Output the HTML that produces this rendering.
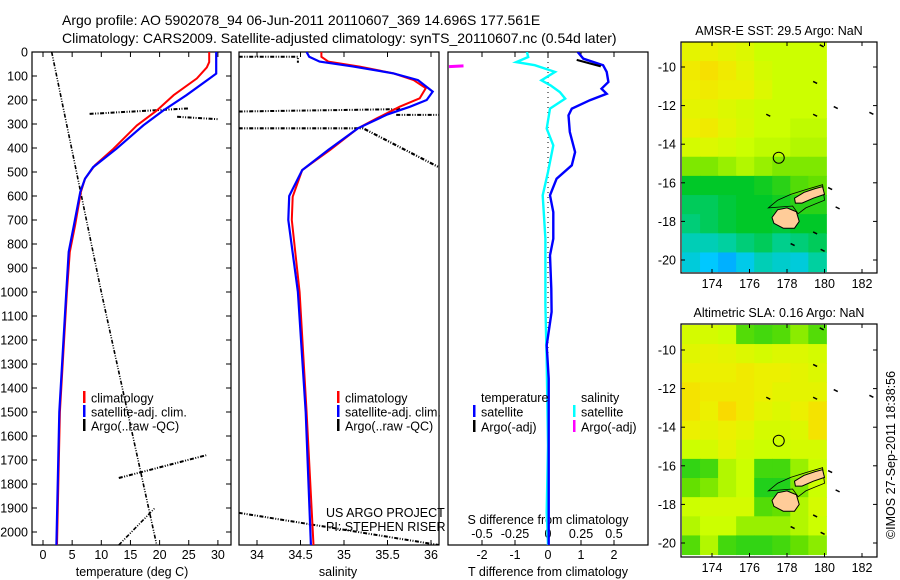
<!DOCTYPE html>
<html><head><meta charset="utf-8">
<style>
html,body{margin:0;padding:0;background:#fff;}
svg{display:block;font-family:"Liberation Sans",sans-serif;}
text{fill:#000;}
</style></head>
<body>
<svg id="chart" width="900" height="580" viewBox="0 0 900 580" xmlns="http://www.w3.org/2000/svg">
<rect width="900" height="580" fill="#fff"/>
<text x="62" y="25" font-size="14">Argo profile: AO 5902078_94 06-Jun-2011 20110607_369 14.696S 177.561E</text>
<text x="62" y="43" font-size="14">Climatology: CARS2009. Satellite-adjusted climatology: synTS_20110607.nc (0.54d later)</text>
<g id="maps"></g>
<g id="plots"></g>
<text transform="translate(895,455) rotate(-90)" font-size="12.5" text-anchor="middle">©IMOS 27-Sep-2011 18:38:56</text>
</svg>
<script>
// ---------- DATA ----------
const depthT = [0,42,64,110,180,244,306,403,472,528,583,722,833,1000,1500,2054];
const tempClim = [28.5,28.5,28.1,26.4,22.4,19.5,16.1,12.1,8.9,7.2,6.5,5.5,4.6,4.1,2.9,2.4];
const depthTS = [0,90,110,180,244,306,403,480,528,583,722,833,1000,1500,2054];
const tempSat = [29.7,29.7,28.6,24.6,20.6,17.2,12.6,8.6,7.2,6.4,5.3,4.4,4.0,2.8,2.3];
const argoTempA_T = [1.5,10,19.5];
const argoTempA_D = [0,1000,2054];
const argoTempB_T = [8,25];
const argoTempB_D = [258,235];
const argoTempC_T = [23,30];
const argoTempC_D = [270,280];
const argoTempD_T = [13,28];
const argoTempD_D = [1775,1680];
const argoTempE_T = [13,19.2];
const argoTempE_D = [2054,1900];

const depthSC = [0,20,40,61,89,117,151,193,228,276,318,408,492,603,700,1000,1500,2054];
const salClim = [34.74,34.74,34.82,35.18,35.57,35.8,35.94,35.87,35.64,35.38,35.16,34.84,34.52,34.41,34.4,34.49,34.57,34.65];
const depthSS = [0,20,40,60,89,117,165,200,228,260,318,408,492,600,700,1000,1500,2054];
const salSat = [34.57,34.6,34.72,35.1,35.57,35.85,36.02,35.95,35.76,35.5,35.16,34.82,34.52,34.37,34.36,34.47,34.56,34.62];
const argoSalA_S = [33.79,34.47,34.47];
const argoSalA_D = [20,20,45];
const argoSalB_S = [33.79,35.68];
const argoSalB_D = [248,238];
const argoSalC_S = [35.6,36.09];
const argoSalC_D = [262,262];
const argoSalD_S = [33.79,35.22,36.09];
const argoSalD_D = [318,318,480];
const argoSalE_S = [33.79,36.09];
const argoSalE_D = [1920,2054];

const depthDT = [0,28,55,83,125,153,174,201,236,264,333,417,472,528,597,667,778,847,986,1083,1222,1361,1639,2054];
const dTsat = [0.9,1.07,1.67,1.78,1.83,1.62,1.78,1.27,0.72,0.62,0.66,0.82,0.72,0.26,0.06,0.16,0.16,0.06,0.1,0.11,-0.04,0.02,0.02,0.02];
const depthDTargo = [33,60];
const dTargo = [0.87,1.6];
const depthDS = [0,21,42,55,83,118,139,167,194,236,319,389,500,597,778,1056,1292,1639,1917,2054];
const dSsat = [-0.16,-0.15,-0.24,-0.1,0.053,-0.05,0.02,0.09,0.13,0.015,-0.01,0.04,0.0,-0.04,-0.02,-0.02,-0.01,0.0,-0.01,0.0];
const depthDSargo = [61,58];
const dSargo = [-0.75,-0.64];

const depthTicks = [0,100,200,300,400,500,600,700,800,900,1000,1100,1200,1300,1400,1500,1600,1700,1800,1900,2000];
const tempTicks = [0,5,10,15,20,25,30];
const salTicks = [34,34.5,35,35.5,36];
const salTickLabels = ["34","34.5","35","35.5","36"];
const dtTicks = [-2,-1,0,1,2];
const dsTicks = [-0.5,-0.25,0,0.25,0.5];
const dsTickLabels = ["-0.5","-0.25","0","0.25","0.5"];

const lonTicks = [174,176,178,180,182];
const latTicks = [10,12,14,16,18,20];
const sstGrid = [
[0.76,0.78,0.76,0.74,0.7,0.7,0.7,0.7],
[0.8,0.83,0.8,0.76,0.72,0.7,0.7,0.7],
[0.78,0.8,0.78,0.78,0.74,0.7,0.7,0.7],
[0.76,0.76,0.74,0.72,0.7,0.7,0.7,0.7],
[0.78,0.8,0.76,0.73,0.7,0.7,0.69,0.69],
[0.72,0.74,0.72,0.7,0.69,0.69,0.68,0.68],
[0.64,0.64,0.66,0.68,0.66,0.64,0.64,0.64],
[0.5,0.5,0.5,0.5,0.52,0.55,0.6,0.62],
[0.45,0.45,0.48,0.5,0.5,0.52,0.55,0.55],
[0.42,0.45,0.48,0.5,0.5,0.48,0.5,0.5],
[0.35,0.35,0.38,0.42,0.45,0.4,0.42,0.45],
[0.3,0.25,0.2,0.28,0.35,0.32,0.3,0.38]];
const slaGrid = [
[0.72,0.72,0.7,0.6,0.58,0.6,0.65,0.6],
[0.75,0.77,0.76,0.74,0.72,0.74,0.74,0.72],
[0.78,0.78,0.78,0.8,0.78,0.78,0.76,0.74],
[0.82,0.8,0.8,0.8,0.78,0.76,0.76,0.76],
[0.82,0.78,0.85,0.8,0.76,0.74,0.78,0.82],
[0.78,0.76,0.78,0.76,0.72,0.72,0.74,0.82],
[0.7,0.72,0.76,0.72,0.7,0.7,0.72,0.72],
[0.56,0.58,0.68,0.7,0.58,0.58,0.66,0.7],
[0.62,0.64,0.68,0.7,0.54,0.54,0.64,0.7],
[0.7,0.72,0.72,0.72,0.6,0.62,0.68,0.72],
[0.68,0.7,0.7,0.66,0.66,0.66,0.68,0.7],
[0.6,0.68,0.58,0.56,0.56,0.58,0.62,0.65]];
const vitiLon = [177.2,177.5,178.0,178.5,178.65,178.4,177.8,177.3];
const vitiLat = [17.8,17.4,17.3,17.5,18.0,18.35,18.35,18.1];
const vanuaLon = [178.4,178.9,179.5,179.9,180.0,179.4,178.8,178.45];
const vanuaLat = [16.8,16.5,16.3,16.2,16.6,16.8,17.05,17.05];
const reefLon = [177.0,177.5,178.2,179.0,179.9,180.0,179.5,179.0,178.6,178.3];
const reefLat = [17.3,16.9,16.6,16.35,16.1,16.9,17.1,17.3,17.6,17.2];
const isleLon = [177.0,179.5,179.5,179.85,180.6,182.5,180.7,178.3,179.5,180.3,179.9];
const isleLat = [12.5,12.5,10.8,8.9,12.1,12.4,17.3,19.2,18.6,16.3,19.5];
const argoLon = 177.56, argoLat = 14.7;

// ---------- SCALES ----------
const NS = "http://www.w3.org/2000/svg";
const plots = document.getElementById('plots');
const maps = document.getElementById('maps');
const yD = d => 52 + 0.24*d;
const xT = t => 43 + 5.83*t;
const xS = s => 257 + 87*(s-34);
const xDT = v => 548 + 33*v;
const xDS = v => 548 + 132*v;
const xLon = lon => 712 + (lon-174)*18.75;
const yLat1 = lat => 67 + (lat-10)*19.3;
const yLat2 = lat => 350 + (lat-10)*19.3;

function mk(tag, attrs, parent){
  const e = document.createElementNS(NS, tag);
  for (const k in attrs) e.setAttribute(k, attrs[k]);
  (parent||plots).appendChild(e);
  return e;
}
function txt(x,y,s,size,anchor,parent){
  const e = mk('text',{x:x,y:y,'font-size':size,'text-anchor':anchor||'start'},parent);
  e.textContent = s;
  return e;
}
function pts(xs, ys, fx, fy){ return xs.map((v,i)=>fx(v).toFixed(1)+','+fy(ys[i]).toFixed(1)).join(' '); }

// ---------- PANEL FRAMES ----------
const panels = [[32,231,'temperature-panel'],[239,439,'salinity-panel'],[448,648,'difference-panel']];
panels.forEach(p=>{
  const r = mk('rect',{x:p[0],y:52,width:p[1]-p[0],height:493,fill:'none',stroke:'#000','stroke-width':1.2});
  
  
});
const defs = mk('defs',{});
panels.forEach((p,i)=>{
  const c = mk('clipPath',{id:'clip'+i},defs);
  mk('rect',{x:p[0],y:52,width:p[1]-p[0],height:493},c);
});
const mclip = mk('clipPath',{id:'mapclip'},defs);
mk('rect',{x:681,y:0,width:196,height:580},mclip);

depthTicks.forEach(d=>{
  const t = txt(28, yD(d)+4.5, String(d), 12.5, 'end');
  
  
  const a = mk('line',{x1:32,x2:37,y1:yD(d),y2:yD(d),stroke:'#000'});
  
  
  const b = mk('line',{x1:226,x2:231,y1:yD(d),y2:yD(d),stroke:'#000'});
  
  
});
function xticks(vals, labels, fx, ylab, name, top){
  vals.forEach((v,i)=>{
    const x = fx(v);
    const l1 = mk('line',{x1:x,x2:x,y1:545,y2:540,stroke:'#000'});
    
    
    if(top){
      const l2 = mk('line',{x1:x,x2:x,y1:52,y2:57,stroke:'#000'});
      
      
    }
    if(ylab){
      const t = txt(x, ylab, labels[i], 12.5, 'middle');
      
      
    }
  });
}
xticks(tempTicks, tempTicks.map(String), xT, 559, 'temperature', true);
xticks(salTicks, salTickLabels, xS, 559, 'salinity', true);
xticks(dtTicks, dtTicks.map(String), xDT, 559, 'tdiff', true);
dsTicks.forEach((v,i)=>{
  const t = txt(xDS(v), 538, dsTickLabels[i], 12.5, 'middle');
  
  
});

let at = txt(132,576,'temperature (deg C)',12.5,'middle');


at = txt(338,576,'salinity',12.5,'middle');


at = txt(548,576,'T difference from climatology',12.5,'middle');


at = txt(548,524,'S difference from climatology',12.5,'middle');


at = txt(326,517,'US ARGO PROJECT',12.5,'start');


at = txt(326,531,'PI: STEPHEN RISER',12.5,'start');



function series(xs, ys, fx, color, w, clip, name, dash){
  const a = {points:pts(xs,ys,fx,yD),fill:'none',stroke:color,'stroke-width':w,'clip-path':'url(#clip'+clip+')'};
  if(dash) a['stroke-dasharray'] = dash;
  const p = mk('polyline',a);
  
  
}
const DD = '4,1.5,1,1.5,1,1.5';
series(argoTempA_T, argoTempA_D, xT, '#000', 1.6, 0, 'argo-temp-raw', DD);
series(argoTempB_T, argoTempB_D, xT, '#000', 2, 0, 'argo-temp-raw', DD);
series(argoTempC_T, argoTempC_D, xT, '#000', 2, 0, 'argo-temp-raw', DD);
series(argoTempD_T, argoTempD_D, xT, '#000', 2, 0, 'argo-temp-raw', DD);
series(argoTempE_T, argoTempE_D, xT, '#000', 1.6, 0, 'argo-temp-raw', DD);
series(tempClim, depthT, xT, '#f00', 2, 0, 'temp-climatology-line');
series(tempSat, depthTS, xT, '#00f', 2.2, 0, 'temp-satellite-line');

series(argoSalA_S, argoSalA_D, xS, '#000', 2, 1, 'argo-sal-raw', DD);
series(argoSalB_S, argoSalB_D, xS, '#000', 2, 1, 'argo-sal-raw', DD);
series(argoSalC_S, argoSalC_D, xS, '#000', 2, 1, 'argo-sal-raw', DD);
series(argoSalD_S, argoSalD_D, xS, '#000', 2.2, 1, 'argo-sal-raw', DD);
series(argoSalE_S, argoSalE_D, xS, '#000', 2, 1, 'argo-sal-raw', DD);
series(salClim, depthSC, xS, '#f00', 2, 1, 'sal-climatology-line');
series(salSat, depthSS, xS, '#00f', 2.2, 1, 'sal-satellite-line');

const z = mk('line',{x1:xDT(0),x2:xDT(0),y1:52,y2:545,stroke:'#000','stroke-width':1,'stroke-dasharray':'1,4'});


series(dSsat, depthDS, xDS, '#0ff', 2.4, 2, 'sdiff-satellite-line');
series(dSargo, depthDSargo, xDS, '#f0f', 3, 2, 'sdiff-argo-line');
series(dTsat, depthDT, xDT, '#00f', 2.4, 2, 'tdiff-satellite-line');
series(dTargo, depthDTargo, xDT, '#000', 2, 2, 'tdiff-argo-line');

function legend(x, y, color, label, name){
  const r = mk('rect',{x:x,y:y-7,width:2.5,height:12,fill:color});
  
  
  const t = txt(x+8, y+4.5, label, 12.5, 'start');
  
  
}
legend(83,398,'#f00','climatology','legend-temp-climatology');
legend(83,412,'#00f','satellite-adj. clim.','legend-temp-satellite');
legend(83,426,'#000','Argo(..raw -QC)','legend-temp-argo');
legend(337,398,'#f00','climatology','legend-sal-climatology');
legend(337,412,'#00f','satellite-adj. clim.','legend-sal-satellite');
legend(337,426,'#000','Argo(..raw -QC)','legend-sal-argo');
let lt = txt(481,402,'temperature',12.5,'start');


lt = txt(581,402,'salinity',12.5,'start');


legend(473,412,'#00f','satellite','legend-tdiff-satellite');
legend(473,427,'#000','Argo(-adj)','legend-tdiff-argo');
legend(573,412,'#0ff','satellite','legend-sdiff-satellite');
legend(573,427,'#f0f','Argo(-adj)','legend-sdiff-argo');

// ---------- MAPS ----------
const cstops = [[0,[0,80,255]],[0.25,[0,200,255]],[0.38,[0,208,160]],[0.5,[0,200,40]],[0.62,[100,224,0]],[0.7,[204,255,0]],[0.78,[236,240,0]],[0.88,[255,208,0]],[1,[255,160,0]]];
function cmap(v){
  for(let i=1;i<cstops.length;i++){
    if(v<=cstops[i][0]){
      const a=cstops[i-1], b=cstops[i], f=(v-a[0])/(b[0]-a[0]);
      const c=a[1].map((q,k)=>Math.round(q+(b[1][k]-q)*f));
      return 'rgb('+c.join(',')+')';
    }
  }
  return 'rgb(255,160,0)';
}
const lonMin=172.4, lonMax=180.1, latMin=8.7, latMax=20.6;
function drawMap(grid, yLat, top, bottom, name, title){
  const rows = grid.length, cols = grid[0].length;
  const dLon = (lonMax-lonMin)/cols, dLat = (latMax-latMin)/rows;
  grid.forEach((row,r)=>row.forEach((v,c)=>{
    const x0=xLon(lonMin+c*dLon), x1=xLon(lonMin+(c+1)*dLon);
    const y0=yLat(latMin+r*dLat), y1=yLat(latMin+(r+1)*dLat);
    const cell = mk('rect',{x:x0.toFixed(2),y:y0.toFixed(2),width:(x1-x0+0.5).toFixed(2),height:(y1-y0+0.5).toFixed(2),fill:cmap(v),'clip-path':'url(#mapclip)'},maps);
    
    
  }));
  const reef = mk('polygon',{points:pts(reefLon,reefLat,xLon,yLat),fill:'none',stroke:'#000','stroke-width':0.8},maps);
  
  
  [[vitiLon,vitiLat,'viti-levu'],[vanuaLon,vanuaLat,'vanua-levu']].forEach(s=>{
    const isl = mk('polygon',{points:pts(s[0],s[1],xLon,yLat),fill:'#ffcc99',stroke:'#000','stroke-width':1},maps);
    
    
  });
  isleLon.forEach((lo,i)=>{
    const x=xLon(lo), y=yLat(isleLat[i]);
    const m = mk('line',{x1:x-2,x2:x+2,y1:y-1,y2:y+1,stroke:'#000','stroke-width':1.5},maps);
    
    
  });
  const circ = mk('circle',{cx:xLon(argoLon),cy:yLat(argoLat),r:5.5,fill:'none',stroke:'#000','stroke-width':1},maps);
  
  
  const fr = mk('rect',{x:681,y:top,width:196,height:bottom-top,fill:'none',stroke:'#000','stroke-width':1.2},maps);
  
  
  const tt = txt(779, top-7, title, 12.5, 'middle', maps);
  
  
  latTicks.forEach(l=>{
    const y=yLat(l);
    const a = mk('line',{x1:681,x2:685,y1:y,y2:y,stroke:'#000'},maps);
    
    
    const b = mk('line',{x1:873,x2:877,y1:y,y2:y,stroke:'#000'},maps);
    
    
    const t = txt(676, y+4.5, '-'+l, 12.5, 'end', maps);
    
    
  });
  lonTicks.forEach(l=>{
    const x=xLon(l);
    const a = mk('line',{x1:x,x2:x,y1:bottom,y2:bottom-4,stroke:'#000'},maps);
    
    
    const b = mk('line',{x1:x,x2:x,y1:top,y2:top+4,stroke:'#000'},maps);
    
    
    const t = txt(x, bottom+15, String(l), 12.5, 'middle', maps);
    
    
  });
}
drawMap(sstGrid, yLat1, 42, 273, 'sst-map', 'AMSR-E SST: 29.5 Argo: NaN');
drawMap(slaGrid, yLat2, 324, 557, 'sla-map', 'Altimetric SLA: 0.16 Argo: NaN');
</script>
</body></html>
